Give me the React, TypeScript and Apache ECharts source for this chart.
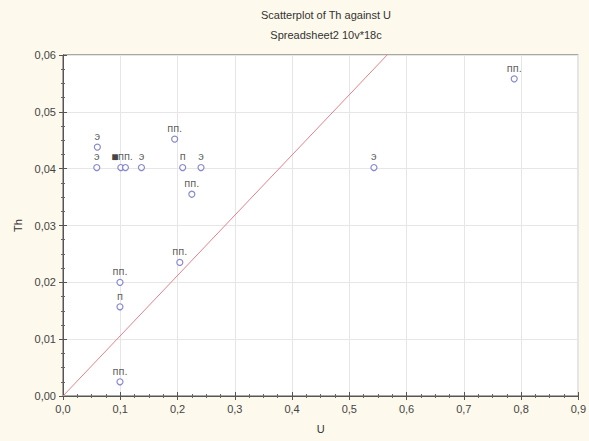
import React, { useEffect, useRef } from "react";
import * as echarts from "echarts";

const uValues = [0.060, 0.059, 0.101, 0.109, 0.137, 0.209, 0.241, 0.195, 0.225, 0.204, 0.0995, 0.0995, 0.0995, 0.543, 0.788];
const thValues = [0.0438, 0.0402, 0.0402, 0.0402, 0.0402, 0.0402, 0.0402, 0.0452, 0.0355, 0.0235, 0.0200, 0.0157, 0.0025, 0.0402, 0.0558];
const pointLabels = ["э", "э", "■", "пп.", "э", "п", "э", "пп.", "пп.", "пп.", "пп.", "п", "пп.", "э", "пп."];
const lineU = [0, 0.566];
const lineTh = [0, 0.06];
const xTicks = ["0,0", "0,1", "0,2", "0,3", "0,4", "0,5", "0,6", "0,7", "0,8", "0,9"];
const yTicks = ["0,00", "0,01", "0,02", "0,03", "0,04", "0,05", "0,06"];

export default function App() {
  const ref = useRef<HTMLDivElement>(null);
  useEffect(() => {
    if (!ref.current) return;
    const chart = echarts.init(ref.current, undefined, { renderer: "svg" });
    const font = "Liberation Sans, Arial, sans-serif";
    const axisCommon = {
      axisLine: { show: true, lineStyle: { color: "#555", width: 1 } },
      axisTick: { show: true, inside: true, length: 4, lineStyle: { color: "#555" } },
      minorTick: { show: true, splitNumber: 4, length: 2, lineStyle: { color: "#666" } },
    };
    chart.setOption({
      animation: false,
      backgroundColor: "#fdf9ec",
      title: {
        text: "Scatterplot of Th against U\nSpreadsheet2 10v*18c",
        left: 321,
        textAlign: "center",
        top: 0,
        textStyle: { fontSize: 11, fontWeight: "normal", color: "#333", fontFamily: font, lineHeight: 20 },
      },
      grid: { left: 63, right: 10, top: 55, bottom: 45, show: true, backgroundColor: "#ffffff", borderColor: "#555", borderWidth: 1 },
      xAxis: [
        {
          type: "value", min: 0, max: 0.9, interval: 0.1, position: "bottom",
          name: "U", nameLocation: "middle", nameGap: 27,
          nameTextStyle: { fontSize: 11, color: "#333", fontFamily: font },
          axisLabel: { fontSize: 11, color: "#444", fontFamily: font, margin: 7, formatter: (v: number) => xTicks[Math.round(v * 10)] ?? "" },
          splitLine: { show: true, lineStyle: { color: "#e6e6e6" } },
          ...axisCommon,
        },
        {
          type: "value", min: 0, max: 0.9, interval: 0.1, position: "top",
          axisLabel: { show: false }, splitLine: { show: false }, ...axisCommon,
        },
      ],
      yAxis: [
        {
          type: "value", min: 0, max: 0.06, interval: 0.01, position: "left",
          name: "Th", nameLocation: "middle", nameGap: 38,
          nameTextStyle: { fontSize: 11, color: "#333", fontFamily: font },
          axisLabel: { fontSize: 11, color: "#444", fontFamily: font, margin: 7, formatter: (v: number) => yTicks[Math.round(v * 100)] ?? "" },
          splitLine: { show: true, lineStyle: { color: "#e6e6e6" } },
          ...axisCommon,
        },
        {
          type: "value", min: 0, max: 0.06, interval: 0.01, position: "right",
          axisLabel: { show: false }, splitLine: { show: false }, ...axisCommon,
        },
      ],
      series: [
        {
          type: "line",
          data: lineU.map((u, i) => [u, lineTh[i]]),
          symbol: "none",
          lineStyle: { color: "#e8808a", width: 1 },
          z: 2,
        },
        {
          type: "scatter",
          symbol: "circle",
          symbolSize: 6,
          itemStyle: { color: "#ffffff", borderColor: "#6b6bc4", borderWidth: 1.2 },
          label: {
            show: true, position: "top", distance: 2, fontSize: 11, color: "#333", fontFamily: font,
          },
          data: uValues.map((u, i) => ({
            value: [u, thValues[i]],
            label: pointLabels[i] === "■"
              ? { formatter: "■", offset: [-6, 1], fontSize: 12, color: "#111" }
              : { formatter: pointLabels[i] },
          })),
          z: 3,
        },
      ],
    });
    return () => chart.dispose();
  }, []);
  return <div ref={ref} style={{ width: 589, height: 441, position: "absolute", left: 0, top: 0 }} />;
}
